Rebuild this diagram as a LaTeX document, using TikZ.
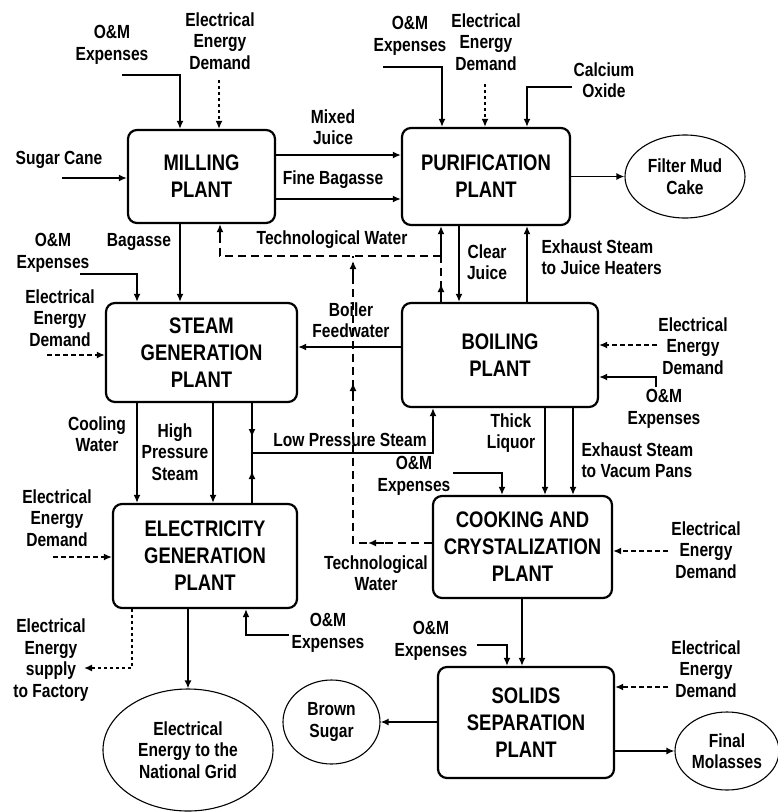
\documentclass[tikz,border=0pt]{standalone}
\usepackage{fontspec}
\setmainfont[FakeStretch=0.82]{Liberation Sans}
\usepackage{tikz}
\usetikzlibrary{arrows.meta,shapes.geometric}

\newcommand{\lblfont}{\fontsize{19}{21.5}\selectfont\bfseries}
\newcommand{\plantfont}{\fontsize{22.5}{27}\selectfont\bfseries}

\begin{document}
\begin{tikzpicture}[x=1pt,y=-1pt,
		plant/.style = {draw,rounded corners=9pt,line width=2.2pt,align=center,font=\plantfont},
		product/.style = {draw,ellipse,line width=1.1pt,inner sep=0pt,align=center,font=\lblfont},
		lbl/.style = {align=center,font=\lblfont},
		pipe/.style = {line width=1.6pt},
		flow/.style = {pipe,-{Latex[length=8pt,width=7pt]}},
		demand/.style = {flow,dash pattern=on 5pt off 3pt},
		dots/.style = {flow,dash pattern=on 3pt off 3pt},
		water/.style = {pipe,dash pattern=on 8pt off 5pt}]
			\useasboundingbox (0,0) rectangle (778,812);
			% plants
			\node[plant,minimum width=147pt,minimum height=93pt] at (201.5,176.5) (mill) {MILLING\\PLANT};
			\node[plant,minimum width=168pt,minimum height=97pt] at (486,176.5) (puri) {PURIFICATION\\PLANT};
			\node[plant,minimum width=191pt,minimum height=99pt] at (201.5,352.5) (steam) {STEAM\\GENERATION\\PLANT};
			\node[plant,minimum width=196pt,minimum height=104pt] at (500,355) (boil) {BOILING\\PLANT};
			\node[plant,minimum width=184pt,minimum height=104pt] at (205,556) (elec) {ELECTRICITY\\GENERATION\\PLANT};
			\node[plant,minimum width=179pt,minimum height=102pt] at (522.5,547) (cook) {COOKING AND\\CRYSTALIZATION\\PLANT};
			\node[plant,minimum width=176pt,minimum height=111pt] at (526,722.5) (solid) {SOLIDS\\SEPARATION\\PLANT};
			% products
			\node[product,minimum width=120pt,minimum height=83pt] at (685,176.5) (mud) {Filter Mud\\Cake};
			\node[product,minimum width=170pt,minimum height=122pt] at (188,750) (grid) {Electrical\\Energy to the\\National Grid};
			\node[product,minimum width=97pt,minimum height=84pt] at (331.5,722) (brown) {Brown\\Sugar};
			\node[product,minimum width=104pt,minimum height=78pt] at (727,751) (molas) {Final\\Molasses};
			% labels
			\node[lbl] at (59,160) (cane) {Sugar Cane};
			\node[lbl] at (112,45) (om1) {O\&M\\Expenses};
			\node[lbl] at (220,41) (ed1) {Electrical\\Energy\\Demand};
			\node[lbl] at (333,127) (mixj) {Mixed\\Juice};
			\node[lbl] at (333,180) (fineb) {Fine Bagasse};
			\node[lbl] at (139,242) (bag) {Bagasse};
			\node[lbl] at (332,240) (tw1) {Technological Water};
			\node[lbl] at (410,36) (om2) {O\&M\\Expenses};
			\node[lbl] at (486,42) (ed2) {Electrical\\Energy\\Demand};
			\node[lbl] at (604,80) (cao) {Calcium\\Oxide};
			\node[lbl] at (487,262) (clear) {Clear\\Juice};
			\node[lbl,align=left,anchor=west] at (538,257) (exh1) {Exhaust Steam\\to Juice Heaters};
			\node[lbl] at (53,253) (om3) {O\&M\\Expenses};
			\node[lbl] at (60,318) (ed3) {Electrical\\Energy\\Demand};
			\node[lbl] at (351,320) (feed) {Boiler\\Feedwater};
			\node[lbl] at (97,434) (cool) {Cooling\\Water};
			\node[lbl] at (175,452) (hps) {High\\Pressure\\Steam};
			\node[lbl] at (350,440) (lps) {Low Pressure Steam};
			\node[lbl] at (693,346) (ed4) {Electrical\\Energy\\Demand};
			\node[lbl] at (664,409) (om4) {O\&M\\Expenses};
			\node[lbl] at (511,433) (thick) {Thick\\Liquor};
			\node[lbl,align=left,anchor=west] at (578,460) (exh2) {Exhaust Steam\\to Vacum Pans};
			\node[lbl] at (414,476) (om5) {O\&M\\Expenses};
			\node[lbl] at (706,550) (ed5) {Electrical\\Energy\\Demand};
			\node[lbl] at (376,573) (tw2) {Technological\\Water};
			\node[lbl] at (57,518) (ed6) {Electrical\\Energy\\Demand};
			\node[lbl] at (328,633) (om6) {O\&M\\Expenses};
			\node[lbl] at (51,660) (supply) {Electrical\\Energy\\supply\\to Factory};
			\node[lbl] at (431,641) (om7) {O\&M\\Expenses};
			\node[lbl] at (706,669) (ed7) {Electrical\\Energy\\Demand};
			% free ends and joints
			\coordinate (caneIn) at (62,178);
			\coordinate (om1In) at (122,75);
			\coordinate (ed1In) at (219,80);
			\coordinate (om2In) at (383,67);
			\coordinate (ed2In) at (485,84);
			\coordinate (caoIn) at (572,87);
			\coordinate (om3In) at (80,274);
			\coordinate (ed3In) at (47,355);
			\coordinate (ed4In) at (657,345);
			\coordinate (om4In) at (656,387);
			\coordinate (om5In) at (453,473);
			\coordinate (ed5In) at (668,551);
			\coordinate (ed6In) at (53,557);
			\coordinate (om6In) at (289,635);
			\coordinate (supOut) at (84,668);
			\coordinate (om7In) at (477,645);
			\coordinate (ed7In) at (668,687);
			\coordinate (twJoin) at (441,256);
			\coordinate (twMid) at (353,256);
			\coordinate (twLow) at (353,543);
			\coordinate (lpJoin) at (252,453);
			% milling
			\draw[flow] (caneIn) -- (mill.west |- caneIn);
			\draw[flow] (om1In) -| (mill.north -| 180,0);
			\draw[dots] (ed1In) -- (mill.north -| ed1In);
			\draw[flow] (mill.east |- 0,155) -- (puri.west |- 0,155);
			\draw[flow] (mill.east |- 0,199) -- (puri.west |- 0,199);
			\draw[flow] (mill.south -| 180,0) -- (steam.north -| 180,0);
			% purification
			\draw[flow] (om2In) -| (puri.north -| 442,0);
			\draw[dots] (ed2In) -- (puri.north -| ed2In);
			\draw[flow] (caoIn) -| (puri.north -| 527,0);
			\draw[flow] (puri.east |- mud.west) -- (mud.west);
			\draw[flow] (puri.south -| 459,0) -- (boil.north -| 459,0);
			\draw[flow] (boil.north -| 527,0) -- (puri.south -| 527,0);
			% technological water
			\draw[water] (boil.north -| twJoin) -- (twJoin);
			\draw[flow] (boil.north -| twJoin) -- (441,284);
			\draw[flow] (twJoin) -- (puri.south -| twJoin);
			\draw[water] (twJoin) -- (twMid) -| (220,240);
			\draw[flow] (220,240) -- (mill.south -| 220,0);
			\draw[water] (cook.west |- twLow) -- (twLow) -- (twMid);
			\draw[flow] (384,543) -- (368,543);
			\draw[flow] (353,400) -- (353,383);
			\draw[flow] (353,278) -- (353,261);
			% steam generation
			\draw[flow] (om3In) -| (steam.north -| 137,0);
			\draw[demand] (ed3In) -- (steam.west |- ed3In);
			\draw[flow] (boil.west |- 0,347) -- (steam.east |- 0,347);
			\draw[flow] (steam.south -| 137,0) -- (elec.north -| 137,0);
			\draw[flow] (steam.south -| 213,0) -- (elec.north -| 213,0);
			\draw[pipe] (steam.south -| lpJoin) -- (lpJoin);
			\draw[pipe] (elec.north -| lpJoin) -- (lpJoin);
			\draw[flow] (252,418) -- (252,437);
			\draw[flow] (252,490) -- (252,471);
			\draw[flow] (lpJoin) -| (boil.south -| 433,0);
			% boiling
			\draw[demand] (ed4In) -- (boil.east |- ed4In);
			\draw[flow] (om4In) |- (boil.east |- 0,377);
			\draw[flow] (boil.south -| 545,0) -- (cook.north -| 545,0);
			\draw[flow] (boil.south -| 573,0) -- (cook.north -| 573,0);
			% cooking
			\draw[flow] (om5In) -| (cook.north -| 502,0);
			\draw[demand] (ed5In) -- (cook.east |- ed5In);
			\draw[flow] (cook.south -| 522,0) -- (solid.north -| 522,0);
			% electricity
			\draw[demand] (ed6In) -- (elec.west |- ed6In);
			\draw[flow] (om6In) -| (elec.south -| 246,0);
			\draw[dots] (elec.south -| 132,0) |- (supOut);
			\draw[flow,line width=2pt] (elec.south -| grid.north) -- (grid.north);
			% solids
			\draw[flow] (om7In) -| (solid.north -| 507,0);
			\draw[demand] (ed7In) -- (solid.east |- ed7In);
			\draw[flow,line width=2.5pt] (solid.west |- brown.east) -- (brown.east);
			\draw[flow] (solid.east |- molas.west) -- (molas.west);
		\end{tikzpicture}
\end{document}
